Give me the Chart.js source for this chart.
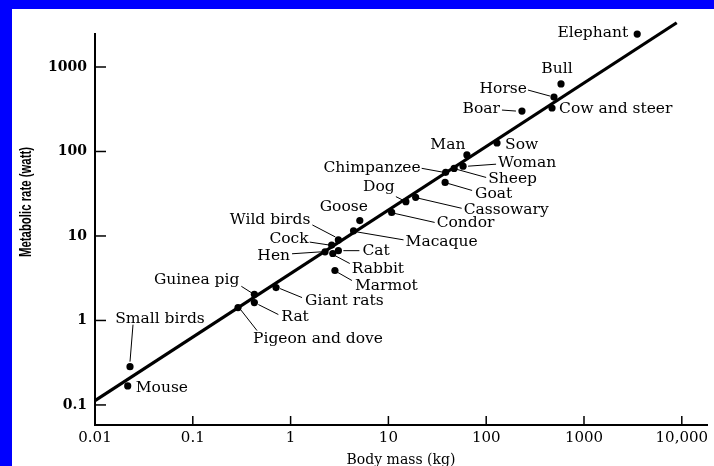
<!DOCTYPE html>
<html>
<head>
<meta charset="utf-8">
<script src="https://cdn.jsdelivr.net/npm/chart.js@4/dist/chart.umd.min.js"></script>
<style>
  html, body { margin: 0; padding: 0; background: #0000ff; overflow: hidden; }
  #wrap { position: absolute; left: 12px; top: 9px; width: 702px; height: 457px; background: #fff; }
</style>
</head>
<body>
<div id="wrap"><canvas id="chart" width="702" height="457"></canvas></div>
<script>
// animals, body mass (kg) and metabolic rate (watt)
const animals = ['Mouse', 'Small birds', 'Pigeon and dove', 'Rat', 'Guinea pig', 'Giant rats',
  'Marmot', 'Rabbit', 'Cat', 'Hen', 'Cock', 'Wild birds', 'Macaque', 'Goose', 'Condor', 'Dog',
  'Cassowary', 'Goat', 'Chimpanzee', 'Sheep', 'Woman', 'Man', 'Sow', 'Boar', 'Cow and steer',
  'Horse', 'Bull', 'Elephant'];
const mass = [0.0216, 0.0228, 0.29, 0.426, 0.426, 0.71,
  2.84, 2.7, 3.08, 2.25, 2.63, 3.08, 4.4, 5.1, 10.8, 15.1,
  19, 38, 38.5, 47, 58, 63.5, 129, 232, 471,
  493, 582, 3500];
const rate = [0.168, 0.284, 1.42, 1.63, 2.04, 2.45,
  3.9, 6.2, 6.7, 6.5, 7.8, 8.97, 11.5, 15.2, 19, 25.5,
  28.7, 43, 56.7, 63, 67, 91, 126, 301, 327,
  441, 630, 2450];

// fitted line end points
const lineMass = [0.01, 8870];
const lineRate = [0.1125, 3340];

const xTickValues = [0.01, 0.1, 1, 10, 100, 1000, 10000];
const xTickLabels = ['0.01', '0.1', '1', '10', '100', '1000', '10,000'];
const yTickValues = [0.1, 1, 10, 100, 1000];
const yTickLabels = ['0.1', '1', '10', '100', '1000'];

// label placement relative to each dot (pixels), same order as animals
const labelLayout = [
  { align: 'left', dx: 8, dy: 2 },
  { align: 'center', dx: 30, dy: -48, lead: [3, -42, 0, -5] },
  { align: 'left', dx: 15, dy: 31, lead: [1, 0, 19, 23] },
  { align: 'left', dx: 27, dy: 14, lead: [4, 2, 24, 12] },
  { align: 'right', dx: -15, dy: -14, lead: [-13, -8, -2, -1] },
  { align: 'left', dx: 29, dy: 13, lead: [4, 1, 26, 10] },
  { align: 'left', dx: 20, dy: 15, lead: [3, 2, 17, 10] },
  { align: 'left', dx: 19, dy: 15, lead: [2, 2, 17, 10] },
  { align: 'left', dx: 24, dy: 0, lead: [5, 0, 21, 0] },
  { align: 'right', dx: -35, dy: 4, lead: [-33, 2, -3, 0] },
  { align: 'right', dx: -23, dy: -6, lead: [-22, -3, -2, 0] },
  { align: 'right', dx: -28, dy: -20, lead: [-26, -15, -3, -3] },
  { align: 'left', dx: 52, dy: 11, lead: [3, 1, 50, 9] },
  { align: 'center', dx: -16, dy: -14 },
  { align: 'left', dx: 45, dy: 11, lead: [3, 1, 43, 10] },
  { align: 'center', dx: -27, dy: -15, lead: [-10, -5, -2, -1] },
  { align: 'left', dx: 48, dy: 13, lead: [3, 1, 46, 11] },
  { align: 'left', dx: 30, dy: 12, lead: [3, 1, 27, 8] },
  { align: 'right', dx: -25, dy: -4, lead: [-24, -4, -2, 0] },
  { align: 'left', dx: 34, dy: 11, lead: [3, 1, 32, 9] },
  { align: 'left', dx: 35, dy: -3, lead: [5, 0, 33, -2] },
  { align: 'center', dx: -19, dy: -10 },
  { align: 'left', dx: 8, dy: 2 },
  { align: 'right', dx: -22, dy: -2, lead: [-20, -1, -6, 0] },
  { align: 'left', dx: 7, dy: 1 },
  { align: 'right', dx: -27, dy: -8, lead: [-26, -7, -4, -1] },
  { align: 'center', dx: -4, dy: -15 },
  { align: 'right', dx: -9, dy: -1 }
];

const decorations = {
  id: 'decorations',
  afterDatasetsDraw(chart) {
    const ctx = chart.ctx;
    const xs = chart.scales.x;
    const ys = chart.scales.y;
    const area = chart.chartArea;
    ctx.save();
    ctx.strokeStyle = '#000';
    ctx.fillStyle = '#000';

    // tick marks point into the plot
    ctx.lineWidth = 1.5;
    yTickValues.forEach(v => {
      const py = ys.getPixelForValue(v);
      ctx.beginPath();
      ctx.moveTo(area.left, py);
      ctx.lineTo(area.left + 11, py);
      ctx.stroke();
    });
    xTickValues.forEach(v => {
      const px = xs.getPixelForValue(v);
      ctx.beginPath();
      ctx.moveTo(px, area.bottom);
      ctx.lineTo(px, area.bottom - 9);
      ctx.stroke();
    });

    // animal names with leader lines
    ctx.font = '15.5px "DejaVu Serif"';
    ctx.textBaseline = 'middle';
    ctx.lineWidth = 1;
    animals.forEach((name, i) => {
      const px = xs.getPixelForValue(mass[i]);
      const py = ys.getPixelForValue(rate[i]);
      const l = labelLayout[i];
      ctx.textAlign = l.align;
      ctx.fillText(name, px + l.dx, py + l.dy);
      if (l.lead) {
        ctx.beginPath();
        ctx.moveTo(px + l.lead[0], py + l.lead[1]);
        ctx.lineTo(px + l.lead[2], py + l.lead[3]);
        ctx.stroke();
      }
    });

    // y axis title, bold and squeezed like the scan
    const yTitle = 'Metabolic rate (watt)';
    ctx.font = 'bold 17px "Liberation Sans", Arial, sans-serif';
    const w = ctx.measureText(yTitle).width;
    ctx.translate(14, 193);
    ctx.rotate(-Math.PI / 2);
    ctx.scale(110 / w, 1);
    ctx.textAlign = 'center';
    ctx.fillText(yTitle, 0, 0);
    ctx.restore();
  }
};

const ctx = document.getElementById('chart').getContext('2d');
new Chart(ctx, {
  type: 'scatter',
  data: {
    datasets: [{
      label: 'Animals',
      data: mass.map((m, i) => ({ x: m, y: rate[i] })),
      pointRadius: 3.6,
      pointBackgroundColor: '#000',
      pointBorderWidth: 0,
      clip: false
    }, {
      label: 'Fit',
      data: lineMass.map((m, i) => ({ x: m, y: lineRate[i] })),
      showLine: true,
      borderColor: '#000',
      borderWidth: 3.2,
      pointRadius: 0,
      clip: false
    }]
  },
  options: {
    responsive: false,
    animation: false,
    events: [],
    layout: { padding: { left: 0, top: 25, right: 7, bottom: 0 } },
    plugins: {
      legend: { display: false },
      tooltip: { enabled: false }
    },
    scales: {
      x: {
        type: 'logarithmic',
        bounds: 'data',
        min: 0.01,
        max: 18100,
        grid: { display: false, drawTicks: false },
        border: { display: true, color: '#000', width: 2 },
        afterBuildTicks: scale => { scale.ticks = xTickValues.map(v => ({ value: v })); },
        afterFit: scale => { scale.height = 41; },
        ticks: {
          autoSkip: false,
          maxRotation: 0,
          padding: 4,
          color: '#000',
          font: { family: 'DejaVu Serif', size: 15 },
          callback: v => xTickLabels[xTickValues.indexOf(v)]
        },
        title: {
          display: true,
          text: 'Body mass (kg)',
          color: '#000',
          font: { family: 'DejaVu Serif', size: 14, lineHeight: 0.85 },
          padding: 0
        }
      },
      y: {
        type: 'logarithmic',
        bounds: 'data',
        min: 0.0579,
        max: 2458,
        grid: { display: false, drawTicks: false },
        border: { display: true, color: '#000', width: 2 },
        afterBuildTicks: scale => { scale.ticks = yTickValues.map(v => ({ value: v })); },
        afterFit: scale => { scale.width = 83; },
        ticks: {
          autoSkip: false,
          padding: 8,
          color: '#000',
          font: { family: 'DejaVu Serif', size: 14, weight: 'bold' },
          callback: v => yTickLabels[yTickValues.indexOf(v)]
        }
      }
    }
  },
  plugins: [decorations]
});
</script>
</body>
</html>
